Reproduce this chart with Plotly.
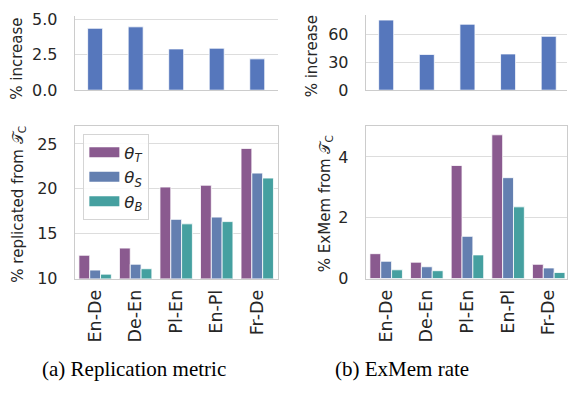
import plotly.graph_objects as go

categories = ["En-De", "De-En", "Pl-En", "En-Pl", "Fr-De"]

# (a) replication metric
inc_repl = [4.35, 4.45, 2.9, 2.95, 2.2]
repl_T = [12.6, 13.4, 20.2, 20.4, 24.5]
repl_S = [10.95, 11.6, 16.6, 16.85, 21.75]
repl_B = [10.5, 11.1, 16.1, 16.35, 21.2]

# (b) ExMem rate
inc_exmem = [75.5, 38.5, 71.0, 39.0, 58.0]
exmem_T = [0.82, 0.54, 3.72, 4.73, 0.47]
exmem_S = [0.57, 0.39, 1.39, 3.32, 0.35]
exmem_B = [0.29, 0.26, 0.78, 2.36, 0.2]

series_names = ["<i>θ</i><sub><i>T</i></sub>", "<i>θ</i><sub><i>S</i></sub>", "<i>θ</i><sub><i>B</i></sub>"]
colors = ["#8A5A8F", "#637FB0", "#45A0A0"]
top_color = "#5677BC"

W, H = 568, 399
FONT = "DejaVu Sans"
GRID = "#DDDDDD"
SPINE = "#CCCCCC"
TXT = "#262626"

fig = go.Figure()

def px_x(a, b):
    return [a / W, b / W]

def px_y(top, bottom):
    return [1 - bottom / H, 1 - top / H]

# top panels
fig.add_trace(go.Bar(x=categories, y=inc_repl, width=0.37, marker=dict(color=top_color, line=dict(color="white", width=0.8)),
                     xaxis="x", yaxis="y", showlegend=False))
fig.add_trace(go.Bar(x=categories, y=inc_exmem, width=0.37, marker=dict(color=top_color, line=dict(color="white", width=0.8)),
                     xaxis="x2", yaxis="y2", showlegend=False))

# bottom panels
for vals, col in zip([repl_T, repl_S, repl_B], colors):
    fig.add_trace(go.Bar(x=categories, y=vals, marker=dict(color=col, line=dict(color="white", width=0.8)),
                         xaxis="x3", yaxis="y3", showlegend=False, offsetgroup=col))
for vals, col in zip([exmem_T, exmem_S, exmem_B], colors):
    fig.add_trace(go.Bar(x=categories, y=vals, marker=dict(color=col, line=dict(color="white", width=0.8)),
                         xaxis="x4", yaxis="y4", showlegend=False, offsetgroup=col))

# legend proxies
for name, col in zip(series_names, colors):
    fig.add_trace(go.Scatter(x=[None], y=[None], mode="lines", name=name,
                             line=dict(color=col, width=10), xaxis="x3", yaxis="y3"))

tickfont = dict(family=FONT, size=16, color=TXT)
xtickfont = dict(family=FONT, size=17.5, color=TXT)

def xax(domain, rng, labels, mirror, anchor):
    return dict(domain=domain, range=rng, anchor=anchor, showgrid=False, showline=True, linecolor=SPINE, linewidth=1.3,
                mirror=mirror, showticklabels=labels, tickangle=-90, tickfont=xtickfont,
                ticks="outside" if labels else "", ticklen=3, tickcolor="rgba(0,0,0,0)", zeroline=False,
                fixedrange=True)

def yax(domain, rng, tickvals, fmt, mirror, anchor):
    return dict(domain=domain, range=rng, anchor=anchor, tickvals=tickvals, tickformat=fmt, showgrid=True, gridcolor=GRID,
                gridwidth=1.2, showline=True, linecolor=SPINE, linewidth=1.3, mirror=mirror,
                tickfont=tickfont, ticks="outside", ticklen=13, tickcolor="rgba(0,0,0,0)", zeroline=False)

fig.update_layout(
    width=W, height=H, margin=dict(l=0, r=0, t=0, b=0),
    paper_bgcolor="white", plot_bgcolor="white",
    barmode="group", bargap=0.2, bargroupgap=0,
    xaxis=xax(px_x(75, 278), [-0.5, 4.5], False, False, "y"),
    yaxis=yax(px_y(10, 87.7), [0, 5.24], [0, 2.5, 5.0], ".1f", False, "x"),
    xaxis2=xax(px_x(366.5, 568), [-0.5, 4.45], False, False, "y2"),
    yaxis2=yax(px_y(9.3, 87.7), [0, 81], [0, 30, 60], "d", False, "x2"),
    xaxis3=xax(px_x(75, 278), [-0.5, 4.5], True, True, "y3"),
    yaxis3=yax(px_y(125, 284), [10, 27.0], [10, 15, 20, 25], "d", True, "x3"),
    xaxis4=xax(px_x(366.5, 568), [-0.5, 4.45], True, True, "y4"),
    yaxis4=yax(px_y(125, 284), [0, 5.02], [0, 2, 4], "d", True, "x4"),
    legend=dict(x=83.5 / W, y=1 - 133.5 / H, xanchor="left", yanchor="top",
                bgcolor="rgba(255,255,255,0.85)", bordercolor="#D5D5D5", borderwidth=1,
                font=dict(family=FONT, size=16.5, color=TXT), itemwidth=30,
                tracegroupgap=0),
    font=dict(family=FONT, color=TXT),
)

ann_font = dict(family=FONT, size=15, color=TXT)
annotations = [
    dict(text="% increase", x=17 / W, y=1 - 55 / H, textangle=-90, font=ann_font),
    dict(text="% replicated from 𝒯<sub>C</sub>", x=19 / W, y=1 - 206 / H, textangle=-90, font=ann_font),
    dict(text="% increase", x=312 / W, y=1 - 52 / H, textangle=-90, font=ann_font),
    dict(text="% ExMem from 𝒯<sub>C</sub>", x=326 / W, y=1 - 206 / H, textangle=-90, font=ann_font),
    dict(text="(a) Replication metric", x=134 / W, y=1 - 378 / H,
         font=dict(family="Liberation Serif", size=21, color="black")),
    dict(text="(b) ExMem rate", x=403 / W, y=1 - 378 / H,
         font=dict(family="Liberation Serif", size=21, color="black")),
]
for a in annotations:
    a.update(xref="paper", yref="paper", showarrow=False, xanchor="center", yanchor="middle")
fig.update_layout(annotations=annotations)

fig.write_html("out.html")
